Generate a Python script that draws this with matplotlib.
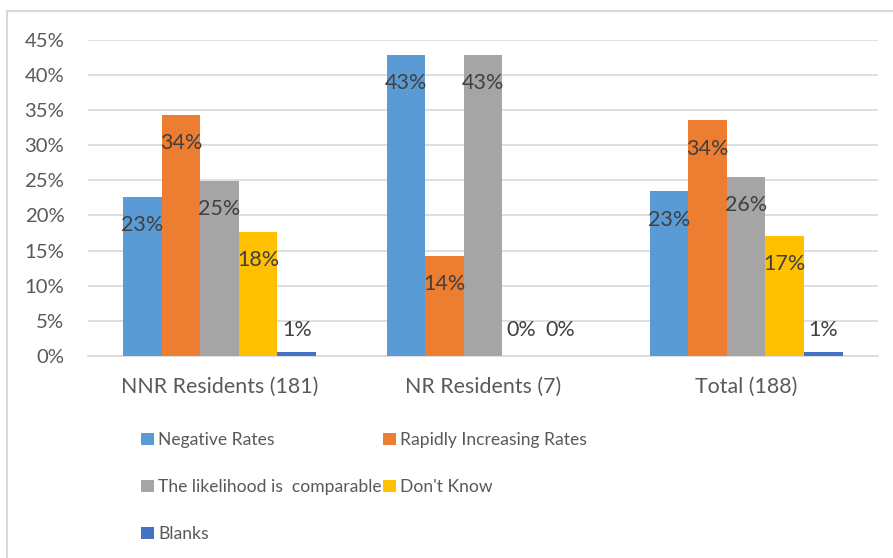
import matplotlib.pyplot as plt
import numpy as np
from matplotlib.patches import Rectangle

plt.rcParams['font.family'] = ['Lato', 'DejaVu Sans']

groups = ["NNR Residents (181)", "NR Residents (7)", "Total (188)"]
series = ["Negative Rates", "Rapidly Increasing Rates",
          "The likelihood is  comparable", "Don't Know", "Blanks"]
negative = [22.65, 42.86, 23.40]
rapid = [34.25, 14.29, 33.51]
comparable = [24.86, 42.86, 25.53]
dont_know = [17.68, 0.0, 17.02]
blanks = [0.55, 0.0, 0.53]
labels = [["23%", "43%", "23%"],
          ["34%", "14%", "34%"],
          ["25%", "43%", "26%"],
          ["18%", "0%", "17%"],
          ["1%", "0%", "1%"]]
colors = ["#5B9BD5", "#ED7D31", "#A5A5A5", "#FFC000", "#4472C4"]

values = [negative, rapid, comparable, dont_know, blanks]

fig = plt.figure(figsize=(8.93, 5.58), dpi=100)
ax = fig.add_axes([0.0985, 0.362, 0.8845, 0.567])

x = np.arange(len(groups))
w = 0.1464
handles = []
for i, vals in enumerate(values):
    pos = x + (i - 2) * w
    b = ax.bar(pos, vals, w, color=colors[i], label=series[i], zorder=3)
    handles.append(b)
    for px, v, t in zip(pos, vals, labels[i]):
        ax.text(px, max(v - 4.0, 3.7), t, ha="center", va="center",
                fontsize=15.5, color="#404040", zorder=4)

ax.set_xlim(-0.5, 2.5)
ax.set_ylim(0, 45)
ax.set_yticks(np.arange(0, 46, 5))
ax.set_yticklabels(["{}%".format(t) for t in range(0, 46, 5)])
ax.set_xticks(x)
ax.set_xticklabels(groups)
ax.tick_params(axis="y", length=0, pad=17, labelsize=14.6, labelcolor="#595959")
ax.tick_params(axis="x", length=0, pad=15, labelsize=15.4, labelcolor="#595959")
ax.grid(axis="y", color="#D9D9D9", linewidth=1.2, zorder=0)
for s in ["top", "right", "left"]:
    ax.spines[s].set_visible(False)
ax.spines["bottom"].set_color("#D9D9D9")
ax.spines["bottom"].set_linewidth(1.2)

order = [0, 2, 4, 1, 3]
leg = fig.legend([handles[k] for k in order], [series[k] for k in order],
                 ncol=2, loc="upper left", bbox_to_anchor=(141 / 893, 1 - 432 / 558),
                 frameon=False, fontsize=12.6, handlelength=0.72, handleheight=0.72,
                 handletextpad=0.25, labelspacing=1.78, columnspacing=0.1,
                 borderpad=0, borderaxespad=0)
for t in leg.get_texts():
    t.set_color("#595959")

fig.patches.append(Rectangle((7 / 893, -0.05), 1.1, 1.05 - 11 / 558,
                             transform=fig.transFigure, fill=False,
                             edgecolor="#D9D9D9", linewidth=1.5))

fig.savefig("out.png", dpi=100)
